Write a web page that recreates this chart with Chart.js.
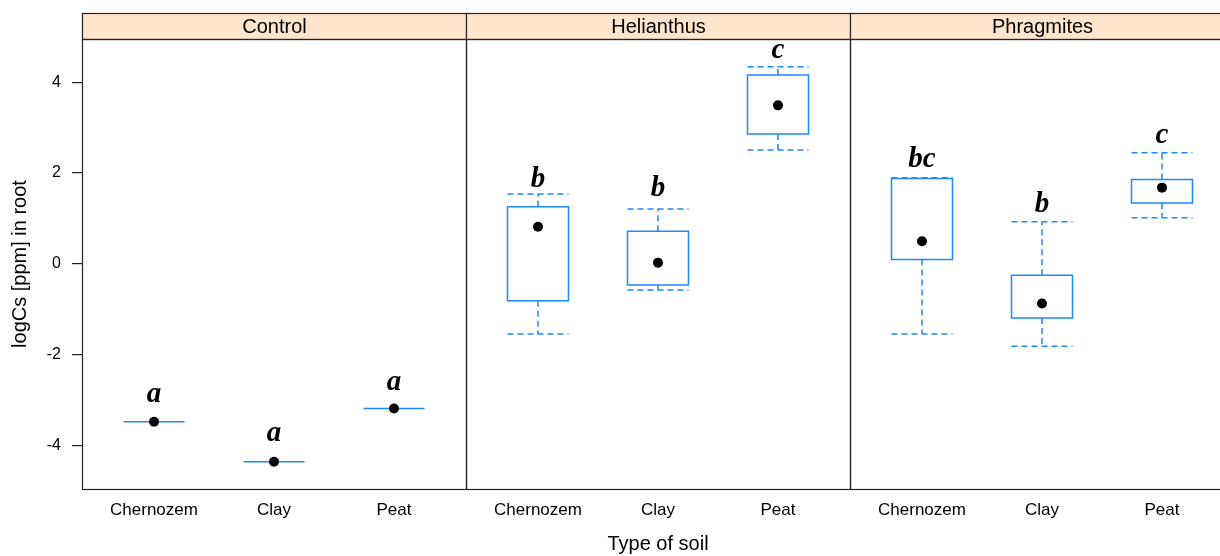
<!DOCTYPE html>
<html>
<head>
<meta charset="utf-8">
<script src="https://cdn.jsdelivr.net/npm/chart.js@4.4.1/dist/chart.umd.min.js"></script>
<style>
  html, body { margin: 0; padding: 0; background: #fff; overflow: hidden; }
  #wrap { width: 1240px; height: 556px; }
</style>
</head>
<body>
<div id="wrap"><canvas id="c" width="1240" height="556"></canvas></div>
<script>
// ---- data ----
const panels = ["Control", "Helianthus", "Phragmites"];
const soils = ["Chernozem", "Clay", "Peat"];
// order: Control(Chernozem, Clay, Peat), Helianthus(...), Phragmites(...)
const whiskerLow  = [-3.47, -4.35, -3.18, -1.54, -0.57, 2.51, -1.54, -1.81, 1.02];
const q1          = [-3.47, -4.35, -3.18, -0.81, -0.46, 2.86,  0.10, -1.19, 1.34];
const medians     = [-3.47, -4.35, -3.18,  0.82,  0.03, 3.49,  0.50, -0.87, 1.68];
const q3          = [-3.47, -4.35, -3.18,  1.26,  0.72, 4.16,  1.88, -0.25, 1.86];
const whiskerHigh = [-3.47, -4.35, -3.18,  1.54,  1.21, 4.34,  1.90,  0.93, 2.45];
const letters     = ["a", "a", "a", "b", "b", "c", "bc", "b", "c"];
const letterAt    = [-3.03, -3.90, -2.77, 1.69, 1.49, 4.53, 2.14, 1.15, 2.67];
const yTicks = [-4, -2, 0, 2, 4];
const yTitle = "logCs [ppm] in root";
const xTitle = "Type of soil";

// ---- layout helpers ----
const PANEL_W = 3.2;          // x units per panel
const BOX_HALF = 0.254;       // half box width in x units
const xPos = [];
const xLabels = [];
panels.forEach((p, pi) => soils.forEach((s, si) => {
  xPos.push(pi * PANEL_W + 1 + si);
  xLabels.push(s);
}));
const bounds = panels.map((p, i) => [i * PANEL_W + 0.4, (i + 1) * PANEL_W + 0.4]);

const BLUE = "#1e88ff";
const FRAME = "#222222";
const SANS = "'Liberation Sans', Arial, sans-serif";

const boxPlugin = {
  id: "boxes",
  beforeDatasetsDraw(chart) {
    const ctx = chart.ctx, x = chart.scales.x, y = chart.scales.y;
    ctx.save();
    ctx.strokeStyle = BLUE;
    ctx.lineWidth = 1.5;
    xPos.forEach((xv, i) => {
      const xl = x.getPixelForValue(xv - BOX_HALF);
      const xr = x.getPixelForValue(xv + BOX_HALF);
      const xc = x.getPixelForValue(xv);
      const yq1 = y.getPixelForValue(q1[i]);
      const yq3 = y.getPixelForValue(q3[i]);
      const ylo = y.getPixelForValue(whiskerLow[i]);
      const yhi = y.getPixelForValue(whiskerHigh[i]);
      // dashed whiskers
      ctx.setLineDash([6, 4]);
      ctx.beginPath();
      if (Math.abs(yhi - yq3) >= 0.5) {
        ctx.moveTo(xc, yq3); ctx.lineTo(xc, yhi);
      }
      if (Math.abs(ylo - yq1) >= 0.5) {
        ctx.moveTo(xc, yq1); ctx.lineTo(xc, ylo);
      }
      if (Math.abs(yhi - yq3) >= 0.5 || Math.abs(yq1 - yq3) >= 0.5) {
        ctx.moveTo(xl, yhi); ctx.lineTo(xr, yhi);
        ctx.moveTo(xl, ylo); ctx.lineTo(xr, ylo);
      }
      ctx.stroke();
      // solid box
      ctx.setLineDash([]);
      ctx.beginPath();
      if (Math.abs(yq1 - yq3) < 0.5) {
        ctx.moveTo(xl, yq1); ctx.lineTo(xr, yq1);
      } else {
        ctx.rect(xl, yq3, xr - xl, yq1 - yq3);
      }
      ctx.stroke();
    });
    ctx.restore();
  },
  afterDatasetsDraw(chart) {
    const ctx = chart.ctx, x = chart.scales.x, y = chart.scales.y;
    const area = chart.chartArea;
    ctx.save();
    // letters
    ctx.fillStyle = "#000";
    ctx.font = "bold italic 29px 'Liberation Serif', 'Times New Roman', serif";
    ctx.textAlign = "center";
    ctx.textBaseline = "alphabetic";
    xPos.forEach((xv, i) => {
      ctx.fillText(letters[i], x.getPixelForValue(xv), y.getPixelForValue(letterAt[i]));
    });
    // panel frames and strips
    const stripTop = area.top - 26;
    ctx.lineWidth = 1.2;
    ctx.strokeStyle = FRAME;
    bounds.forEach((b, i) => {
      const l = Math.round(x.getPixelForValue(b[0])) + 0.5;
      const r = Math.round(x.getPixelForValue(b[1])) + 0.5;
      const t = Math.round(area.top) + 0.5;
      const bt = Math.round(area.bottom) + 0.5;
      ctx.fillStyle = "#ffe5cc";
      ctx.fillRect(l, stripTop + 0.5, r - l, t - stripTop - 0.5);
      ctx.strokeRect(l, stripTop + 0.5, r - l, t - stripTop - 0.5);
      ctx.strokeRect(l, t, r - l, bt - t);
      ctx.fillStyle = "#000";
      ctx.font = "20px " + SANS;
      ctx.textAlign = "center";
      ctx.textBaseline = "middle";
      ctx.fillText(panels[i], (l + r) / 2, (stripTop + t) / 2 + 1);
    });
    ctx.restore();
  }
};

new Chart(document.getElementById("c"), {
  type: "scatter",
  data: {
    datasets: [{
      data: medians.map((m, i) => ({ x: xPos[i], y: m })),
      pointRadius: 5,
      pointHoverRadius: 5,
      pointBackgroundColor: "#000",
      pointBorderWidth: 0,
      showLine: false
    }]
  },
  options: {
    responsive: false,
    animation: false,
    devicePixelRatio: 1,
    layout: { padding: { top: 39, right: 6, left: 0, bottom: 0 } },
    plugins: { legend: { display: false }, tooltip: { enabled: false } },
    scales: {
      x: {
        type: "linear",
        min: bounds[0][0],
        max: bounds[bounds.length - 1][1],
        afterBuildTicks(s) { s.ticks = xPos.map(v => ({ value: v })); },
        afterFit(s) { s.height = 67; },
        ticks: {
          autoSkip: false, maxRotation: 0, minRotation: 0,
          padding: 11, color: "#000",
          font: { family: SANS, size: 17 },
          callback: (v, i) => xLabels[i]
        },
        grid: { display: false, drawTicks: false },
        border: { display: false },
        title: { display: true, text: xTitle, color: "#000",
                 font: { family: SANS, size: 20 }, padding: { top: 0, bottom: 0 } }
      },
      y: {
        min: -4.95, max: 4.95,
        afterBuildTicks(s) { s.ticks = yTicks.map(v => ({ value: v })); },
        afterFit(s) { s.width = 82; },
        ticks: { padding: 11, color: "#000", font: { family: SANS, size: 16 } },
        grid: { drawOnChartArea: false, drawTicks: true, tickLength: 10, color: FRAME, lineWidth: 1.2 },
        border: { display: false },
        title: { display: true, text: yTitle, color: "#000",
                 font: { family: SANS, size: 20 }, padding: { top: 8, bottom: 0 } }
      }
    }
  },
  plugins: [boxPlugin]
});
</script>
</body>
</html>
